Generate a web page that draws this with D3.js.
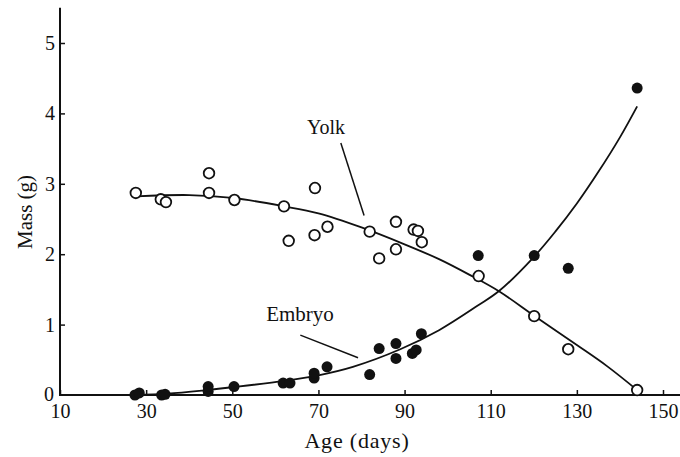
<!DOCTYPE html>
<html>
<head>
<meta charset="utf-8">
<script src="https://cdn.jsdelivr.net/npm/d3@7"></script>
<style>
  body { margin: 0; background: #fff; }
  svg text { font-family: "Liberation Serif", "DejaVu Serif", serif; fill: #111; }
</style>
</head>
<body>
<div id="chart"></div>
<script>
// open circles: yolk mass (g) against age (days)
const yolkAge  = [27.6, 33.4, 34.6, 44.6, 44.6, 50.5, 62.0, 63.1, 69.1, 69.2, 72.1, 81.9, 84.1, 88.0, 88.0, 92.1, 93.1, 94.0, 107.2, 120.1, 128.0, 144.0];
const yolkMass = [2.87, 2.78, 2.74, 3.15, 2.87, 2.77, 2.68, 2.19, 2.27, 2.94, 2.39, 2.32, 1.94, 2.07, 2.46, 2.35, 2.33, 2.17, 1.69, 1.12, 0.65, 0.07];

// filled circles: embryo mass
const embryoAge  = [27.4, 28.4, 33.6, 34.4, 44.4, 44.4, 50.4, 61.8, 63.4, 69.0, 69.0, 72.0, 81.9, 84.1, 88.0, 88.0, 91.8, 92.7, 93.9, 107.1, 120.1, 128.0, 144.0];
const embryoMass = [0.0, 0.03, 0.0, 0.01, 0.05, 0.12, 0.12, 0.17, 0.17, 0.24, 0.31, 0.40, 0.29, 0.66, 0.52, 0.73, 0.59, 0.64, 0.87, 1.98, 1.98, 1.80, 4.36];

// fitted curves
const yolkFitAge  = [27.6, 40, 50, 62, 70, 80, 90, 98, 105, 112, 120, 130, 137, 144];
const yolkFitMass = [2.82, 2.84, 2.80, 2.68, 2.58, 2.38, 2.14, 1.93, 1.71, 1.47, 1.13, 0.71, 0.41, 0.07];
const embryoFitAge  = [27, 35, 44, 50, 62, 70, 78, 89, 98, 107, 112, 120, 125, 130, 135, 140, 144];
const embryoFitMass = [0.0, 0.02, 0.07, 0.11, 0.20, 0.28, 0.40, 0.65, 0.92, 1.27, 1.48, 1.96, 2.32, 2.72, 3.17, 3.66, 4.1];

const xTicks = [10, 30, 50, 70, 90, 110, 130, 150];
const yTicks = [1, 2, 3, 4, 5];

const width = 680, height = 457;

const svg = d3.select("#chart").append("svg")
  .attr("width", width)
  .attr("height", height);

const x = d3.scaleLinear().domain([10, 150]).range([60, 663]);
const y = d3.scaleLinear().domain([0, 5]).range([395, 43]);

// axes with inward ticks
const xAxis = svg.append("g")
  .attr("transform", `translate(0,${y(0)})`)
  .call(d3.axisBottom(x).tickValues(xTicks).tickFormat(d3.format("d"))
    .tickSizeInner(-5).tickSizeOuter(0).tickPadding(9));
const yAxis = svg.append("g")
  .attr("transform", `translate(${x(10)},0)`)
  .call(d3.axisLeft(y).tickValues(yTicks).tickFormat(d3.format("d"))
    .tickSizeInner(-5).tickSizeOuter(0).tickPadding(5));

[xAxis, yAxis].forEach(g => {
  g.select(".domain").remove();
  g.selectAll(".tick line").attr("stroke", "#111").attr("stroke-width", 1.5);
  g.selectAll(".tick text").attr("font-size", "20px").attr("font-family", "Liberation Serif").attr("fill", "#111");
});

// zero label sits left of the corner
svg.append("text")
  .attr("x", x(10) - 11)
  .attr("y", y(0) + 6)
  .attr("text-anchor", "middle")
  .attr("font-size", "20px")
  .text("0");

svg.append("line")
  .attr("x1", x(10)).attr("x2", width)
  .attr("y1", y(0)).attr("y2", y(0))
  .attr("stroke", "#111").attr("stroke-width", 2);
svg.append("line")
  .attr("x1", x(10)).attr("x2", x(10))
  .attr("y1", y(0) + 1).attr("y2", y(5.5))
  .attr("stroke", "#111").attr("stroke-width", 2);

// axis titles
svg.append("text")
  .attr("x", 357)
  .attr("y", 448)
  .attr("text-anchor", "middle")
  .attr("font-size", "22px")
  .attr("letter-spacing", "0.8px")
  .text("Age (days)");
svg.append("text")
  .attr("transform", `translate(32,${y(2.6)}) rotate(-90)`)
  .attr("text-anchor", "middle")
  .attr("font-size", "21px")
  .text("Mass (g)");

// fitted curves
const line = d3.line()
  .x(d => x(d[0]))
  .y(d => y(d[1]))
  .curve(d3.curveCatmullRom.alpha(0.5));

svg.append("path")
  .datum(d3.zip(yolkFitAge, yolkFitMass))
  .attr("d", line)
  .attr("fill", "none")
  .attr("stroke", "#111")
  .attr("stroke-width", 1.8);
svg.append("path")
  .datum(d3.zip(embryoFitAge, embryoFitMass))
  .attr("d", line)
  .attr("fill", "none")
  .attr("stroke", "#111")
  .attr("stroke-width", 1.8);

// data points
svg.append("g").selectAll("circle")
  .data(d3.zip(embryoAge, embryoMass))
  .join("circle")
  .attr("cx", d => x(d[0]))
  .attr("cy", d => y(d[1]))
  .attr("r", 5.5)
  .attr("fill", "#111");
svg.append("g").selectAll("circle")
  .data(d3.zip(yolkAge, yolkMass))
  .join("circle")
  .attr("cx", d => x(d[0]))
  .attr("cy", d => y(d[1]))
  .attr("r", 5.3)
  .attr("fill", "#fff")
  .attr("stroke", "#111")
  .attr("stroke-width", 1.8);

// curve labels with pointer lines
svg.append("text")
  .attr("x", 326).attr("y", 134)
  .attr("text-anchor", "middle")
  .attr("font-size", "20px")
  .text("Yolk");
svg.append("line")
  .attr("x1", x(75.2)).attr("y1", y(3.58))
  .attr("x2", x(80.6)).attr("y2", y(2.55))
  .attr("stroke", "#111").attr("stroke-width", 1.5);

svg.append("text")
  .attr("x", 300).attr("y", 321)
  .attr("text-anchor", "middle")
  .attr("font-size", "21px")
  .text("Embryo");
svg.append("line")
  .attr("x1", x(65.8)).attr("y1", y(0.85))
  .attr("x2", x(79.2)).attr("y2", y(0.53))
  .attr("stroke", "#111").attr("stroke-width", 1.5);
</script>
</body>
</html>
